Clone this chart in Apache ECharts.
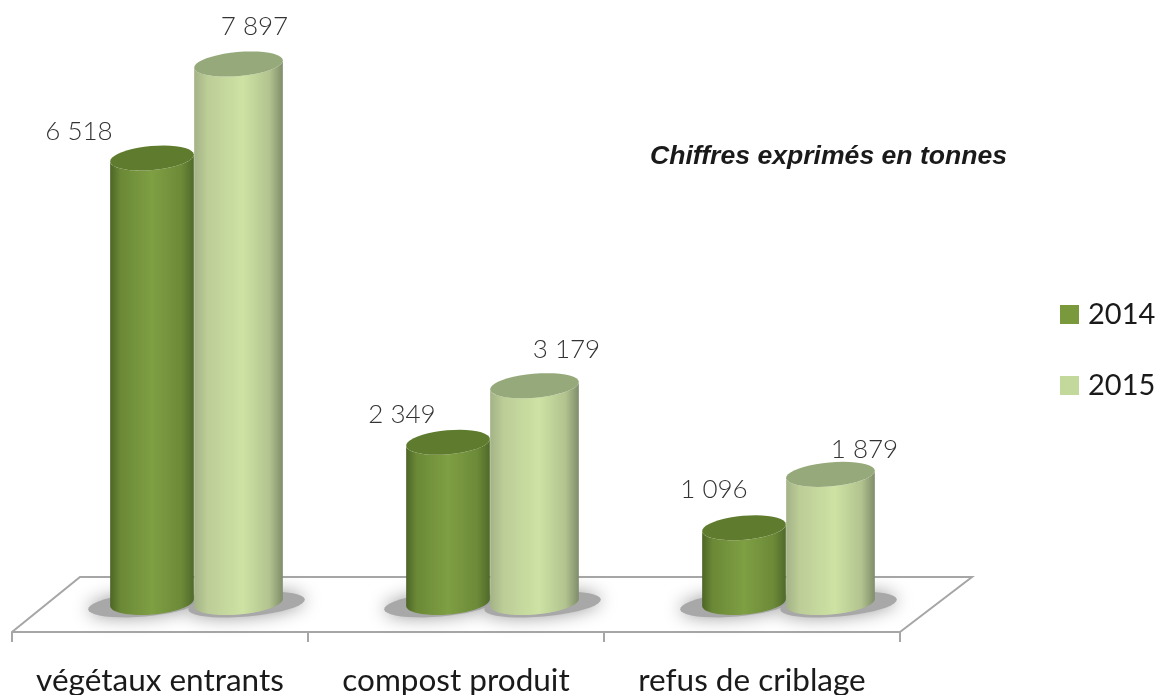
<!DOCTYPE html>
<html>
<head>
<meta charset="utf-8">
<script src="https://cdn.jsdelivr.net/npm/echarts@6/dist/echarts.min.js"></script>
<style>
  html, body { margin: 0; background: #fff; }
  #chart { width: 1160px; height: 695px; }
</style>
</head>
<body>
<div id="chart"></div>
<script>
const categories = ['végétaux entrants', 'compost produit', 'refus de criblage'];
const values2014 = [6518, 2349, 1096];
const values2015 = [7897, 3179, 1879];

// hand placed labels in the original, offset from the top of each cylinder
const labelOffsets2014 = [[-73, -26], [-46, -28], [-30, -38]];
const labelOffsets2015 = [[16, -37], [32, -36], [34, -25]];

const depthX = 34; // cylinders stand back from the front edge of the floor
const floorDrop = 29.5;
const tilt = 5 * Math.PI / 180;

const fmt = (v) => String(v).replace(/\B(?=(\d{3})+$)/g, ' ');

function ellipseArc(cx, cy, rx, ry, from, to) {
  const pts = [];
  const n = 40;
  for (let i = 0; i <= n; i++) {
    const a = from + (to - from) * i / n;
    const x = rx * Math.cos(a);
    const y = ry * Math.sin(a);
    pts.push([cx + x * Math.cos(tilt) + y * Math.sin(tilt), cy - x * Math.sin(tilt) + y * Math.cos(tilt)]);
  }
  return pts;
}

function cylinder(side, rx, stops, topColor, offsets) {
  return function (params, api) {
    const i = api.value(0);
    const top = api.coord([i, api.value(1)]);
    const base = api.coord([i, 0]);
    const cx = top[0] + depthX + side * rx;
    const front = ellipseArc(cx, base[1], rx, 12, 0, Math.PI);
    const back = ellipseArc(cx, top[1], rx, 12, Math.PI, 0);
    return {
      type: 'group',
      children: [
        {
          type: 'polygon',
          shape: { points: back.concat(front) },
          style: {
            fill: {
              type: 'linear', x: 0, y: 0, x2: 1, y2: 0,
              colorStops: stops
            }
          }
        },
        {
          type: 'polygon',
          shape: { points: ellipseArc(cx, top[1], rx, 12, 0, Math.PI * 2) },
          style: { fill: topColor }
        },
        {
          type: 'text',
          style: {
            text: fmt(api.value(1)),
            x: cx + offsets[i][0],
            y: top[1] + offsets[i][1],
            align: 'center',
            verticalAlign: 'middle',
            fill: '#333333',
            font: '300 26px Lato, "Open Sans", sans-serif'
          }
        }
      ]
    };
  };
}

function baseShadow(side, rx) {
  return function (params, api) {
    const base = api.coord([api.value(0), 0]);
    const cx = base[0] + depthX + side * (rx + 8);
    return {
      type: 'polygon',
      shape: { points: ellipseArc(cx, base[1] + 2, rx + 14, 12, 0, Math.PI * 2) },
      style: {
        fill: '#a8a8a8',
        shadowBlur: 18,
        shadowColor: '#9c9c9c'
      }
    };
  };
}

function floor(params) {
  const c = params.coordSys;
  const y = c.y + c.height + floorDrop;
  return {
    type: 'polyline',
    shape: {
      points: [[c.x, y], [c.x + 68, y - 55], [c.x + c.width + 72, y - 55], [c.x + c.width, y]]
    },
    style: { fill: null, stroke: '#a6a6a6', lineWidth: 2 }
  };
}

const stops2014 = [
  { offset: 0, color: '#4c6527' },
  { offset: 0.12, color: '#6a8836' },
  { offset: 0.5, color: '#7f9f43' },
  { offset: 0.85, color: '#6c8a38' },
  { offset: 1, color: '#4f6a2a' }
];
const stops2015 = [
  { offset: 0, color: '#a3b386' },
  { offset: 0.15, color: '#bccd97' },
  { offset: 0.55, color: '#cde2a3' },
  { offset: 0.85, color: '#b2c38f' },
  { offset: 1, color: '#7f8d69' }
];

const chart = echarts.init(document.getElementById('chart'));
chart.setOption({
  animation: false,
  backgroundColor: '#ffffff',
  title: {
    text: 'Chiffres exprimés en tonnes',
    left: 645,
    top: 138,
    textStyle: {
      fontFamily: '"Liberation Sans", Arial, sans-serif',
      fontStyle: 'italic',
      fontWeight: 'bold',
      fontSize: 26.6,
      color: '#1a1a1a'
    }
  },
  legend: {
    orient: 'vertical',
    left: 1055,
    top: 295,
    itemWidth: 19,
    itemHeight: 19,
    itemGap: 42,
    icon: 'rect',
    data: ['2014', '2015'],
    textStyle: {
      fontFamily: 'Lato, sans-serif',
      fontSize: 29,
      color: '#1a1a1a',
      padding: [5, 0, 0, 4]
    }
  },
  grid: { left: 12, right: 260, top: 57, bottom: 92.5, outerBoundsMode: 'none' },
  xAxis: {
    type: 'category',
    data: categories,
    offset: floorDrop,
    axisLine: { onZero: false, lineStyle: { color: '#a6a6a6', width: 2 } },
    axisTick: { show: true, length: 10, alignWithLabel: false, lineStyle: { color: '#a6a6a6', width: 2 } },
    axisLabel: {
      interval: 0,
      hideOverlap: false,
      fontFamily: 'Lato, sans-serif',
      fontSize: 31.5,
      color: '#1a1a1a',
      margin: 33
    }
  },
  yAxis: { type: 'value', min: 0, max: 8000, show: false, splitLine: { show: false } },
  series: [
    { type: 'custom', name: 'floor', z: 1, silent: true, data: [[0, 0]], renderItem: floor },
    {
      type: 'custom', name: 'shadow2014', z: 1, silent: true,
      data: values2014.map((v, i) => [i, v]),
      renderItem: baseShadow(-1, 42)
    },
    {
      type: 'custom', name: 'shadow2015', z: 1, silent: true,
      data: values2015.map((v, i) => [i, v]),
      renderItem: baseShadow(1, 44.5)
    },
    {
      type: 'custom', name: '2014', z: 3, silent: true,
      itemStyle: { color: '#7a983c' },
      data: values2014.map((v, i) => [i, v]),
      encode: { x: 0, y: 1 },
      renderItem: cylinder(-1, 42, stops2014, '#5f7b2d', labelOffsets2014)
    },
    {
      type: 'custom', name: '2015', z: 4, silent: true,
      itemStyle: { color: '#c3d89b' },
      data: values2015.map((v, i) => [i, v]),
      encode: { x: 0, y: 1 },
      renderItem: cylinder(1, 44.5, stops2015, '#96a97a', labelOffsets2015)
    }
  ]
});
</script>
</body>
</html>
